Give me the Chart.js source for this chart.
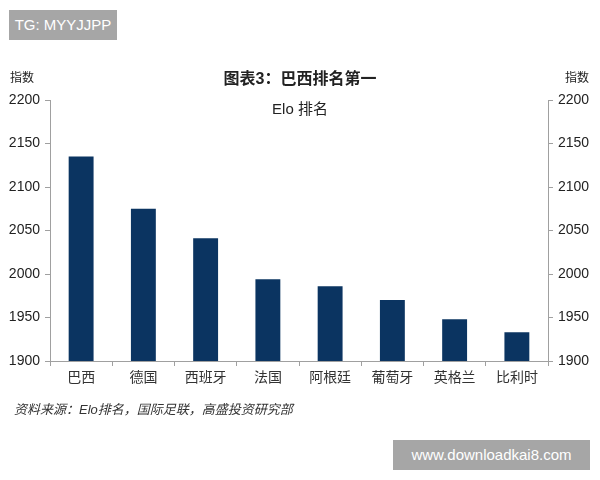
<!DOCTYPE html>
<html><head><meta charset="utf-8">
<script src="https://cdn.jsdelivr.net/npm/chart.js@4"></script>
<style>
html,body{margin:0;padding:0;background:#fff;}
#wrap{position:relative;width:600px;height:480px;overflow:hidden;font-family:"Liberation Sans","Noto Sans CJK SC",sans-serif;}
canvas{position:absolute;left:0;top:0;}
.t{position:absolute;white-space:nowrap;color:#222;}
.wm{position:absolute;background:#a6a6a6;color:#fff;font-family:"Liberation Sans",sans-serif;font-size:15px;}
</style></head>
<body><div id="wrap">
<canvas id="c" width="600" height="480"></canvas>
<div class="wm" style="left:9px;top:10px;width:108px;height:30px;line-height:30px;text-align:center;">TG: MYYJJPP</div>
<div class="t" style="left:10px;top:68px;font-size:12px;font-family:'Noto Sans CJK SC';">指数</div>
<div class="t" style="left:565px;top:68px;font-size:12px;font-family:'Noto Sans CJK SC';">指数</div>
<div class="t" style="left:0;width:600px;top:65px;text-align:center;font-size:16px;font-weight:bold;font-family:'Liberation Sans','Noto Sans CJK SC';">图表3：巴西排名第一</div>
<div class="t" style="left:0;width:600px;top:97px;text-align:center;font-size:15px;font-family:'Liberation Sans','Noto Sans CJK SC';">Elo 排名</div>
<div class="t" style="left:14px;top:399px;font-size:13px;font-style:italic;color:#333;font-family:'Liberation Sans','Noto Sans CJK SC';">资料来源：Elo排名，国际足联，高盛投资研究部</div>
<div class="wm" style="left:393px;top:440px;width:197px;height:30px;line-height:30px;text-align:center;">www.downloadkai8.com</div>
</div>
<script>
const categories = ["巴西","德国","西班牙","法国","阿根廷","葡萄牙","英格兰","比利时"];
const eloValues = [2135, 2075, 2041, 1994, 1986, 1970, 1948, 1933];
const yMin = 1900, yMax = 2200, yStep = 50;

const tickFont = {family:"'Liberation Sans','Noto Sans CJK SC'", size:14};
const axisGray = '#a0a0a0';
const plainTick = v => String(v);
new Chart(document.getElementById('c'), {
  type:'bar',
  data:{labels:categories, datasets:[{data:eloValues, backgroundColor:'#0b3461', barPercentage:0.4, categoryPercentage:1.0, yAxisID:'y'}]},
  options:{
    responsive:false, animation:false, devicePixelRatio:1,
    layout:{padding:{left:0,right:0,top:100,bottom:89}},
    plugins:{legend:{display:false}, tooltip:{enabled:false}},
    scales:{
      x:{
        grid:{display:true, drawOnChartArea:false, offset:true, color:axisGray, tickLength:5},
        border:{color:axisGray},
        ticks:{color:'#333', font:tickFont, padding:4, maxRotation:0},
        afterFit(s){ s.height = 30; }
      },
      y:{
        position:'left', min:yMin, max:yMax,
        grid:{display:true, drawOnChartArea:false, color:axisGray, tickLength:5},
        border:{color:axisGray},
        ticks:{stepSize:yStep, color:'#222', font:tickFont, padding:5, callback:plainTick},
        afterFit(s){ s.width = 50; }
      },
      y2:{
        position:'right', min:yMin, max:yMax,
        grid:{display:true, drawOnChartArea:false, color:axisGray, tickLength:5},
        border:{color:axisGray},
        ticks:{stepSize:yStep, color:'#222', font:tickFont, padding:5, callback:plainTick},
        afterFit(s){ s.width = 52; }
      }
    }
  }
});
</script>
</body></html>
